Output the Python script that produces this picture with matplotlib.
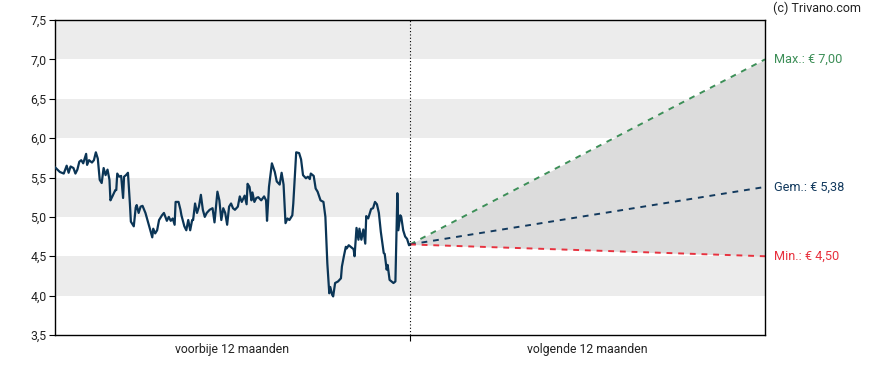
import matplotlib.pyplot as plt
import numpy as np

plt.rcParams["font.family"] = ["Roboto", "DejaVu Sans"]

# ---------- data ----------
# day within the past 12 months (0..365) and closing price
days = [
    0, 5, 9, 12, 14, 16, 19, 21, 23, 25, 27, 29, 32, 33, 35, 38, 40, 42, 44, 46,
    48, 50, 52, 54, 56, 57, 59, 62, 63, 64, 66, 68, 70, 71, 73, 75, 77, 78, 81, 83,
    84, 86, 88, 90, 93, 96, 98, 100, 101, 103, 105, 107, 110, 112, 115, 117, 119, 121, 123, 124,
    127, 129, 130, 133, 135, 137, 139, 141, 142, 144, 146, 148, 150, 152, 154, 156, 159, 162, 164, 167,
    169, 171, 173, 175, 177, 179, 181, 183, 185, 188, 190, 192, 195, 197, 198, 200, 202, 203, 205, 207,
    209, 212, 215, 217, 218, 220, 223, 226, 228, 231, 233, 235, 237, 239, 241, 244, 245, 248, 251, 253,
    255, 258, 260, 262, 263, 266, 268, 270, 273, 276, 278, 280, 282, 283, 285, 286, 288, 291, 294, 295,
    297, 299, 300, 302, 304, 307, 308, 310, 312, 313, 315, 317, 319, 320, 322, 325, 327, 329, 331, 333,
    335, 338, 339, 341, 342, 344, 346, 348, 350, 352, 353, 355, 356, 358, 360, 362, 364, 365,
]
prices = [
    5.63, 5.57, 5.55, 5.65, 5.56, 5.64, 5.62, 5.55, 5.60, 5.70, 5.72, 5.68, 5.80, 5.66, 5.72, 5.69, 5.72, 5.82, 5.74, 5.47,
    5.43, 5.62, 5.53, 5.60, 5.47, 5.21, 5.26, 5.34, 5.34, 5.55, 5.51, 5.52, 5.24, 5.51, 5.53, 5.56, 5.17, 4.94, 4.88, 5.12,
    5.15, 5.05, 5.13, 5.14, 5.05, 4.92, 4.83, 4.74, 4.85, 4.79, 4.83, 4.96, 5.02, 5.05, 4.95, 5.00, 4.95, 4.98, 4.90, 5.19,
    5.19, 5.09, 5.02, 4.88, 4.83, 4.96, 4.83, 4.96, 4.96, 5.17, 5.05, 5.13, 5.28, 5.09, 5.00, 5.05, 5.09, 5.11, 4.93, 5.32,
    5.21, 4.96, 5.11, 5.05, 4.90, 5.13, 5.17, 5.11, 5.09, 5.13, 5.26, 5.19, 5.27, 5.16, 5.42, 5.38, 5.21, 5.31, 5.19, 5.24,
    5.25, 5.21, 5.26, 5.21, 4.95, 5.38, 5.68, 5.57, 5.45, 5.41, 5.56, 5.41, 4.92, 4.98, 4.96, 5.02, 5.17, 5.82, 5.81, 5.73,
    5.53, 5.49, 5.51, 5.48, 5.55, 5.52, 5.36, 5.32, 5.21, 5.19, 5.00, 4.41, 4.03, 4.11, 4.01, 3.99, 4.16, 4.18, 4.22, 4.37,
    4.50, 4.62, 4.60, 4.64, 4.62, 4.59, 4.50, 4.86, 4.71, 4.85, 4.71, 4.84, 4.66, 5.01, 4.98, 5.10, 5.11, 5.19, 5.16, 5.05,
    4.81, 4.54, 4.53, 4.33, 4.39, 4.20, 4.18, 4.16, 4.18, 5.30, 4.83, 5.02, 5.00, 4.83, 4.75, 4.72, 4.64, 4.65,
]
last_price = 4.65
forecast_max = 7.00
forecast_avg = 5.38
forecast_min = 4.50

yticks = [3.5, 4.0, 4.5, 5.0, 5.5, 6.0, 6.5, 7.0, 7.5]
period_labels = ["voorbije 12 maanden", "volgende 12 maanden"]


def nl(v):
    # dutch decimal comma
    return f"{v:.2f}".replace(".", ",")


# ---------- plot ----------
fig = plt.figure(figsize=(8.88, 3.70), dpi=100)
ax = fig.add_axes([55 / 888, 35 / 370, 710 / 888, 315 / 370])

# alternating bands
for lo in [4.0, 5.0, 6.0, 7.0]:
    ax.axhspan(lo, lo + 0.5, color="#ececec", lw=0, zorder=0)

x_past = np.array(days) / 365.0
ax.plot(x_past, prices, color="#0b3556", lw=1.6, zorder=3, solid_joinstyle="round")

# forecast cone
xf = [1, 2]
ax.fill_between(xf, [last_price, forecast_min], [last_price, forecast_max],
                color="#dcdcdc", lw=0, zorder=1)
ax.plot(xf, [last_price, forecast_max], color="#3d8f58", ls=(0, (3, 3)), lw=1.4, zorder=2)
ax.plot(xf, [last_price, forecast_avg], color="#133a5e", ls=(0, (3, 3)), lw=1.4, zorder=2)
ax.plot(xf, [last_price, forecast_min], color="#e8323f", ls=(0, (3, 3)), lw=1.4, zorder=2)

ax.axvline(1, color="black", ls=(0, (1, 2)), lw=0.8, zorder=4)

ax.set_xlim(0, 2)
ax.set_ylim(3.5, 7.5)
ax.set_yticks(yticks)
ax.set_yticklabels([f"{v:.1f}".replace(".", ",") for v in yticks])
ax.set_xticks([1])
ax.set_xticklabels([""])
ax.set_xticks([0.5, 1.5], minor=True)
ax.set_xticklabels(period_labels, minor=True)
ax.tick_params(axis="x", which="minor", length=0, pad=6, labelsize=8.8, colors="#222222")
ax.tick_params(axis="x", which="major", length=4, width=0.8)
ax.tick_params(axis="y", length=4, width=0.8, labelsize=8.8, labelcolor="#222222", pad=2)
for sp in ax.spines.values():
    sp.set_linewidth(1.0)
    sp.set_color("black")

# labels right of the axis
txt_kw = dict(transform=ax.get_yaxis_transform(), va="center", ha="left", fontsize=9.2)
ax.text(1.013, forecast_max, "Max.: € " + nl(forecast_max), color="#3d8f58", **txt_kw)
ax.text(1.013, forecast_avg, "Gem.: € " + nl(forecast_avg), color="#133a5e", **txt_kw)
ax.text(1.013, forecast_min, "Min.: € " + nl(forecast_min), color="#e8323f", **txt_kw)
fig.text(773 / 888, 1 - 8 / 370, "(c) Trivano.com", ha="left", va="center",
         fontsize=9.0, color="#222222")

fig.savefig("out.png", dpi=100)
